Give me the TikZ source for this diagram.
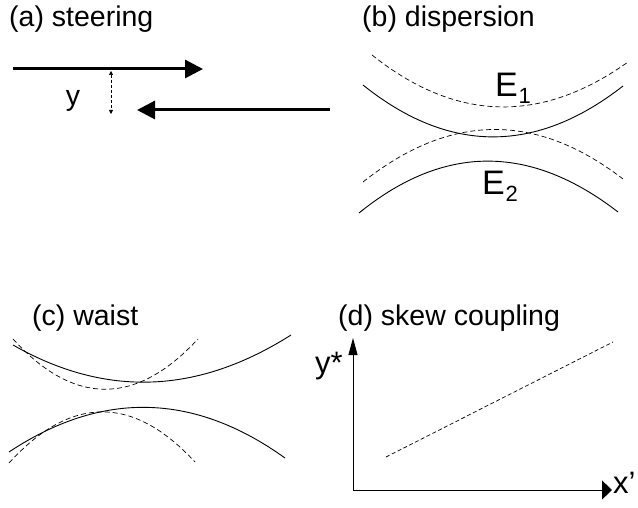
\documentclass[tikz,border=0pt]{standalone}
\usepackage{fontspec}
\setmainfont{Liberation Sans}
\usetikzlibrary{arrows.meta}

\begin{document}
\begin{tikzpicture}[x=1pt, y=-1pt,
    lbl/.style={font=\fontsize{28.5}{32}\selectfont, inner sep=0pt},
    axlbl/.style={font=\fontsize{31}{34}\selectfont, inner sep=0pt},
    elbl/.style={font=\fontsize{34}{36}\selectfont, inner sep=0pt},
    beam/.style={line width=3pt, -{Triangle[length=18pt,width=18pt]}},
    gap/.style={line width=0.6pt, dash pattern=on 3pt off 2pt, {Triangle[length=4pt,width=4pt]}-{Triangle[length=4pt,width=4pt]}},
    curve/.style={line width=0.9pt},
    dcurve/.style={line width=0.7pt, dash pattern=on 5pt off 3pt}]
    \useasboundingbox (0,0) rectangle (638,508);

    % (a) steering
    \node[lbl, anchor=west] (ta) at (9,19) {(a) steering};
    \coordinate (a1) at (13,69);
    \coordinate (a2) at (203,69);
    \coordinate (a3) at (330,110);
    \coordinate (a4) at (137,110);
    \draw[beam] (a1) -- (a2);
    \draw[beam] (a3) -- (a4);
    \coordinate (g1) at (111,71);
    \coordinate (g2) at (111,114);
    \draw[gap] (g1) -- (g2);
    \node[lbl] (ya) at (73,101) {y};

    % (b) dispersion
    \node[lbl, anchor=west] (tb) at (362,19) {(b) dispersion};
    \draw[dcurve] (372,55) .. controls (456,122) and (541,124) .. (628,62);
    \draw[curve] (363,85) .. controls (449,154) and (536,154) .. (623,86);
    \draw[dcurve] (363,182) .. controls (450,113) and (536,112) .. (623,179);
    \draw[curve] (359,213) .. controls (444,144) and (530,144) .. (618,212);
    \node[elbl] (e1) at (513,88) {E\kern1pt\raisebox{-7pt}{\fontsize{22}{24}\selectfont 1}};
    \node[elbl] (e2) at (500,186) {E\kern1pt\raisebox{-7pt}{\fontsize{22}{24}\selectfont 2}};

    % (c) waist
    \node[lbl, anchor=west] (tc) at (32,318) {(c) waist};
    \draw[curve] (13,345) .. controls (106,398) and (198,394) .. (291,335);
    \draw[dcurve] (13,339) .. controls (74,406) and (136,406) .. (198,339);
    \draw[curve] (9,452) .. controls (101,391) and (193,392) .. (285,458);
    \draw[dcurve] (9,463) .. controls (71,395) and (133,395) .. (195,462);

    % (d) skew coupling
    \node[lbl, anchor=west] (td) at (338,318) {(d) skew coupling};
    \coordinate (o) at (353,490);
    \coordinate (ytip) at (353,338);
    \coordinate (xtip) at (612,490);
    \draw[line width=1pt, -{Triangle[length=17pt,width=9pt]}] (o) -- (ytip);
    \draw[line width=1pt, -{Triangle[length=10pt,width=19pt]}] (o) -- (xtip);
    \node[axlbl] (ys) at (329,366) {y*};
    \node[axlbl, anchor=west] (xs) at (613,483) {x'};
    \coordinate (s1) at (386,457);
    \coordinate (s2) at (613,342);
    \draw[line width=0.7pt, dash pattern=on 4pt off 2.5pt] (s1) -- (s2);
\end{tikzpicture}
\end{document}
